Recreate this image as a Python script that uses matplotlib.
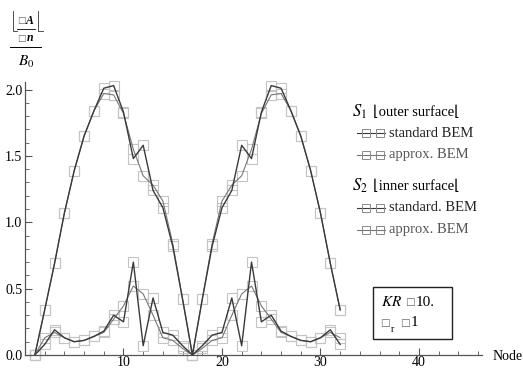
import matplotlib
matplotlib.use("Agg")
import matplotlib.pyplot as plt
from matplotlib.lines import Line2D
from matplotlib.patches import Rectangle
from matplotlib.ticker import MultipleLocator

plt.rcParams['font.family'] = ['Liberation Serif', 'DejaVu Serif', 'DejaVu Sans']
plt.rcParams['mathtext.fontset'] = 'stix'

nodes = list(range(1, 33))
outer_standard = [0, 0.34, 0.69, 1.07, 1.39, 1.65, 1.84, 2.01, 2.03, 1.83, 1.48, 1.58,
                  1.24, 1.11, 0.82, 0.42, 0, 0.42, 0.82, 1.11, 1.24, 1.58, 1.48, 1.83,
                  2.03, 2.01, 1.84, 1.65, 1.39, 1.07, 0.69, 0.34]
outer_approx = [0, 0.34, 0.69, 1.07, 1.39, 1.65, 1.84, 1.97, 1.96, 1.82, 1.55, 1.35,
                1.28, 1.16, 0.84, 0.42, 0, 0.42, 0.84, 1.16, 1.28, 1.35, 1.55, 1.82,
                1.96, 1.97, 1.84, 1.65, 1.39, 1.07, 0.69, 0.34]
inner_standard = [0, 0.08, 0.19, 0.13, 0.10, 0.11, 0.14, 0.18, 0.30, 0.25, 0.70, 0.07,
                  0.43, 0.17, 0.15, 0.07, 0, 0.07, 0.15, 0.17, 0.43, 0.07, 0.70, 0.25,
                  0.30, 0.18, 0.14, 0.11, 0.10, 0.13, 0.19, 0.08]
inner_approx = [0, 0.13, 0.17, 0.13, 0.10, 0.11, 0.14, 0.17, 0.27, 0.37, 0.52, 0.46,
                0.30, 0.13, 0.11, 0.05, 0, 0.05, 0.11, 0.13, 0.30, 0.46, 0.52, 0.37,
                0.27, 0.17, 0.14, 0.11, 0.10, 0.13, 0.17, 0.13]

xticks = [10, 20, 30, 40]
yticks = [0.0, 0.5, 1.0, 1.5, 2.0]

W, H = 523, 369
fig = plt.figure(figsize=(W / 100, H / 100), dpi=100)
ax = fig.add_axes([25 / W, 14 / H, (482 - 25) / W, (355 - 81.6) / H])

dark = '#3a3a3a'
light = '#777777'
mk = '#c4c4c4'
BOX = '\u25a1'

def series(y, color, lw):
    ax.plot(nodes, y, color=color, lw=lw, zorder=3, clip_on=False)
    ax.plot(nodes, y, ls='none', marker='s', ms=7.5, mfc='none', mec=mk, mew=0.8,
            zorder=2, clip_on=False)

series(outer_approx, light, 0.8)
series(outer_standard, dark, 1.0)
series(inner_approx, light, 0.8)
series(inner_standard, dark, 1.0)

ax.set_xlim(0, 46.4)
ax.set_ylim(0, 2.06)
ax.set_xticks(xticks)
ax.set_yticks(yticks)
ax.set_yticklabels([f"{v:.1f}" for v in yticks])
ax.xaxis.set_minor_locator(MultipleLocator(2))
ax.yaxis.set_minor_locator(MultipleLocator(0.1))
for s in ['top', 'right']:
    ax.spines[s].set_visible(False)
for s in ['left', 'bottom']:
    ax.spines[s].set_color('#555555')
    ax.spines[s].set_linewidth(0.9)
ax.tick_params(which='major', direction='in', length=5, width=0.8, color='#555555',
               labelsize=10, pad=2)
ax.tick_params(which='minor', direction='in', length=3, width=0.6, color='#555555')
ax.tick_params(axis='x', pad=1)

def fx(px):
    return px / W

def fy(py):
    return 1 - py / H

fig.text(fx(493), fy(356), 'Node', fontsize=10, va='center', ha='left')

# y-axis label (fraction)
fig.text(fx(21), fy(21), BOX, fontsize=6.5, ha='center', va='center', color='#666666',
         family=['DejaVu Sans'])
fig.text(fx(30), fy(21), 'A', fontsize=8.5, ha='center', va='center', style='italic',
         weight='bold')
fig.add_artist(Line2D([fx(17), fx(35)], [fy(29), fy(29)], color='k', lw=0.6))
fig.text(fx(21), fy(38), BOX, fontsize=6.5, ha='center', va='center', color='#666666',
         family=['DejaVu Sans'])
fig.text(fx(30), fy(38), 'n', fontsize=8.5, ha='center', va='center', style='italic',
         weight='bold')
fig.add_artist(Line2D([fx(10), fx(41)], [fy(47), fy(47)], color='k', lw=0.7))
fig.add_artist(Line2D([fx(13), fx(13), fx(17)], [fy(11), fy(31), fy(31)], color='#333333', lw=0.6))
fig.add_artist(Line2D([fx(38), fx(38), fx(43)], [fy(11), fy(31), fy(31)], color='#333333', lw=0.6))
fig.text(fx(26), fy(62), r'$B_0$', fontsize=11, ha='center', va='center')

# legend
def head(py, idx, label):
    fig.text(fx(352), fy(py), rf'$S_{idx}$', fontsize=12, ha='left', va='center')
    fig.text(fx(373), fy(py), label, fontsize=10.5, ha='left', va='center',
             family=['Liberation Serif', 'DejaVu Sans'])

def entry(py, label, color, tcolor):
    fig.add_artist(Line2D([fx(357), fx(385)], [fy(py), fy(py)], color=color, lw=0.8))
    fig.add_artist(Line2D([fx(366), fx(380)], [fy(py), fy(py)], ls='none', marker='s',
                          ms=6, mfc='none', mec='#888888', mew=0.7))
    fig.text(fx(389), fy(py), label, fontsize=10.5, ha='left', va='center', color=tcolor)

head(112, 1, '\u230aouter surface\u230a')
entry(133, 'standard BEM', dark, '#222222')
entry(155, 'approx. BEM', light, '#555555')
head(186, 2, '\u230ainner surface\u230a')
entry(208, 'standard. BEM', dark, '#222222')
entry(230, 'approx. BEM', light, '#555555')

# parameter box
fig.add_artist(Rectangle((fx(373), fy(339)), fx(452) - fx(373), fy(287) - fy(339),
                         fill=False, ec='#222222', lw=1.0, transform=fig.transFigure))
fig.text(fx(381), fy(302), r'$KR$', fontsize=11, ha='left', va='center')
fig.text(fx(405), fy(302), BOX, fontsize=7.5, ha='left', va='center', color='#666666',
         family=['DejaVu Sans'])
fig.text(fx(416), fy(302), '10.', fontsize=11, ha='left', va='center')
fig.text(fx(380), fy(323), BOX, fontsize=7.5, ha='left', va='center', color='#666666',
         family=['DejaVu Sans'])
fig.text(fx(391), fy(329), 'r', fontsize=7, ha='left', va='center')
fig.text(fx(400), fy(323), BOX, fontsize=7.5, ha='left', va='center', color='#666666',
         family=['DejaVu Sans'])
fig.text(fx(411), fy(323), '1', fontsize=11, ha='left', va='center')

fig.savefig('out.png', dpi=100)
